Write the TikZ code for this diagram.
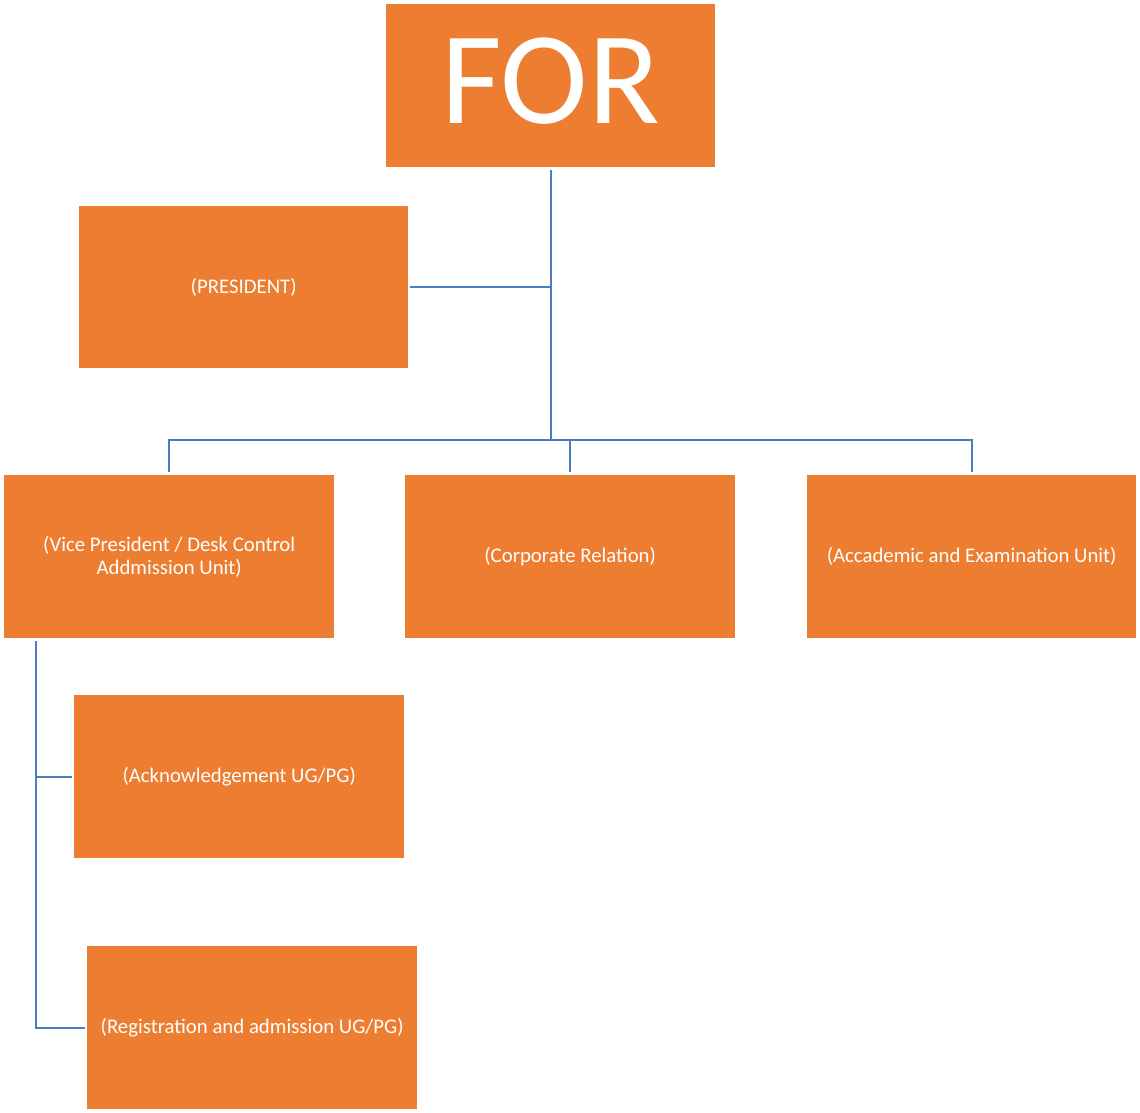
\documentclass[tikz,border=0pt]{standalone}
\usepackage{fontspec}
\setmainfont{Carlito}
\definecolor{boxorange}{HTML}{ED7D31}
\definecolor{linkblue}{HTML}{4A7EBB}
\begin{document}
\begin{tikzpicture}[x=1pt,y=-1pt,
  orgbox/.style={fill=boxorange,draw=none,inner sep=0pt,anchor=north west,
    minimum width=330pt,minimum height=163pt,text=white,align=center,
    font=\fontsize{20.8}{23}\selectfont},
  link/.style={draw=linkblue,line width=2pt}]
\useasboundingbox (0,0) rectangle (1140,1112);
\node[orgbox,minimum width=329pt,text depth=11pt,font=\fontsize{132}{132}\selectfont] (for) at (386,4) {FOR};
\node[orgbox,minimum width=329pt,minimum height=162pt] (pres) at (79,206) {(PRESIDENT)};
\node[orgbox] (vp) at (4,475) {(Vice President / Desk Control\\Addmission Unit)};
\node[orgbox] (corp) at (405,475) {(Corporate Relation)};
\node[orgbox,minimum width=329pt] (acad) at (807,475) {(Accademic and Examination Unit)};
\node[orgbox] (ack) at (74,695) {(Acknowledgement UG/PG)};
\node[orgbox] (reg) at (87,946) {(Registration and admission UG/PG)};
\coordinate (bus) at (for.south |- 0,440);
\coordinate (spine) at (36,641);
\draw[link] ([yshift=-3pt]for.south) -- (bus);
\draw[link] ([xshift=2pt]pres.east) -- (pres.east -| for.south);
\draw[link] ([yshift=3pt]vp.north) |- (bus -| acad.north) -- ([yshift=3pt]acad.north);
\draw[link] ([yshift=3pt]corp.north) -- (bus -| corp.north);
\draw[link] (spine) |- ([xshift=-2pt]reg.west);
\draw[link] (spine |- ack.west) -- ([xshift=-2pt]ack.west);
\end{tikzpicture}
\end{document}
